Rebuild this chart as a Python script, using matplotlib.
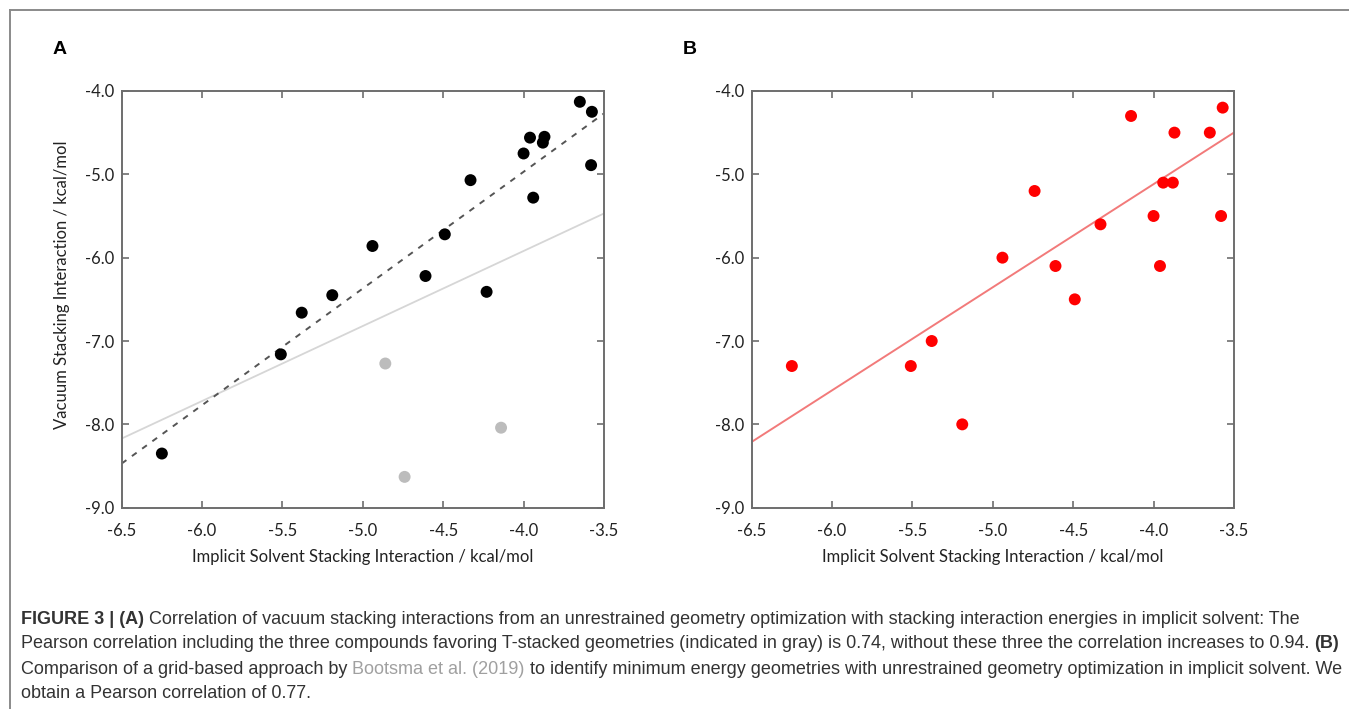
import numpy as np
import matplotlib
matplotlib.use("Agg")
import matplotlib.pyplot as plt
from matplotlib.lines import Line2D

# energias de empilhamento (kcal/mol)
solv_a = [-6.25, -5.51, -5.38, -5.19, -4.94, -4.61, -4.49, -4.33, -4.23,
          -4.00, -3.96, -3.94, -3.88, -3.87, -3.65, -3.58, -3.575]
vac_a = [-8.35, -7.16, -6.66, -6.45, -5.86, -6.22, -5.72, -5.07, -6.41,
         -4.75, -4.56, -5.28, -4.62, -4.55, -4.13, -4.89, -4.25]

# compostos com geometria T-stacked (cinza)
solv_t = [-4.86, -4.74, -4.14]
vac_t = [-7.27, -8.63, -8.04]

solv_b = [-6.25, -5.51, -5.38, -5.19, -4.94, -4.74, -4.61, -4.49, -4.33,
          -4.14, -4.00, -3.96, -3.94, -3.88, -3.87, -3.65, -3.58, -3.57]
grid_b = [-7.3, -7.3, -7.0, -8.0, -6.0, -5.2, -6.1, -6.5, -5.6,
          -4.3, -5.5, -6.1, -5.1, -5.1, -4.5, -4.5, -5.5, -4.2]

# retas de regressao (inclinacao, intercepto)
reta_a_todos = [0.90, -2.32]
reta_a_sem_t = [1.40, 0.63]
reta_b = [1.237, -0.17]

xticks = [-6.5, -6.0, -5.5, -5.0, -4.5, -4.0, -3.5]
yticks = [-9.0, -8.0, -7.0, -6.0, -5.0, -4.0]

FONTE = "Lato"
CINZA_EIXO = "#6e6e6e"
TAM = 12

fig = plt.figure(figsize=(13.49, 7.09), dpi=100)


def arruma_eixo(ax):
    ax.set_xlim(-6.5, -3.5)
    ax.set_ylim(-9.0, -4.0)
    ax.set_xticks(xticks)
    ax.set_yticks(yticks)
    ax.set_xticklabels([f"{v:.1f}" for v in xticks], fontfamily=FONTE, fontsize=TAM, color="#222")
    ax.set_yticklabels([f"{v:.1f}" for v in yticks], fontfamily=FONTE, fontsize=TAM, color="#222")
    ax.tick_params(direction="in", top=True, right=True, length=5, width=1.2,
                   color=CINZA_EIXO)
    ax.tick_params(axis="x", pad=11)
    ax.tick_params(axis="y", pad=5)
    for s in ax.spines.values():
        s.set_color(CINZA_EIXO)
        s.set_linewidth(1.4)
    ax.set_xlabel("Implicit Solvent Stacking Interaction / kcal/mol",
                  fontfamily=FONTE, fontsize=TAM, color="#222", labelpad=7)


def reta(ax, coef, **kw):
    xs = np.array([-6.5, -3.5])
    ax.plot(xs, coef[0] * xs + coef[1], **kw)


# painel A
axA = fig.add_axes([0.0902, 0.2839, 0.3575, 0.5878])
arruma_eixo(axA)
reta(axA, reta_a_todos, color="#d6d6d6", lw=1.3, zorder=1)
reta(axA, reta_a_sem_t, color="#555555", lw=1.4, ls=(0, (3, 3.5)), zorder=1)
axA.scatter(solv_t, vac_t, s=74, color="#bcbcbc", edgecolors="none", zorder=3)
axA.scatter(solv_a, vac_a, s=74, color="black", edgecolors="none", zorder=3)
axA.set_ylabel("Vacuum Stacking Interaction / kcal/mol",
               fontfamily=FONTE, fontsize=TAM, color="#222", labelpad=11)
axA.yaxis.label.set_y(0.535)

# painel B
axB = fig.add_axes([0.5572, 0.2839, 0.3575, 0.5878])
arruma_eixo(axB)
reta(axB, reta_b, color="#f27a7a", lw=1.4, zorder=1)
axB.scatter(solv_b, grid_b, s=74, color="#ff0000", edgecolors="none", zorder=3)

fig.text(60 / 1349, 1 - 50 / 709, "A", fontfamily="Liberation Sans", fontweight="bold",
         fontsize=14, ha="center", va="center")
fig.text(690 / 1349, 1 - 50 / 709, "B", fontfamily="Liberation Sans", fontweight="bold",
         fontsize=14, ha="center", va="center")

# moldura
fig.add_artist(Line2D([10 / 1349, 10 / 1349], [0, 1 - 10 / 709], transform=fig.transFigure,
                      color="#8a8a8a", lw=1.4))
fig.add_artist(Line2D([10 / 1349, 1], [1 - 10 / 709, 1 - 10 / 709], transform=fig.transFigure,
                      color="#8a8a8a", lw=1.4))

# legenda da figura, com trechos em negrito e o link em cinza claro
COR_TXT = "#333333"
COR_LINK = "#a0a0a0"
linhas = [
    [("FIGURE 3 | (A)", "bold", COR_TXT),
     (" Correlation of vacuum stacking interactions from an unrestrained geometry optimization with stacking interaction energies in implicit solvent: The", "normal", COR_TXT)],
    [("Pearson correlation including the three compounds favoring T-stacked geometries (indicated in gray) is 0.74, without these three the correlation increases to 0.94. ", "normal", COR_TXT),
     ("(B)", "bold", COR_TXT)],
    [("Comparison of a grid-based approach by ", "normal", COR_TXT),
     ("Bootsma et al. (2019)", "normal", COR_LINK),
     (" to identify minimum energy geometries with unrestrained geometry optimization in implicit solvent. We", "normal", COR_TXT)],
    [("obtain a Pearson correlation of 0.77.", "normal", COR_TXT)],
]
y_linhas = [619, 644, 669, 693]

fig.canvas.draw()
rend = fig.canvas.get_renderer()
for trechos, yl in zip(linhas, y_linhas):
    x = 21
    for txt, peso, cor in trechos:
        t = fig.text(x / 1349, 1 - yl / 709, txt, fontfamily="Liberation Sans",
                     fontweight=peso, fontsize=12.95, color=cor, va="center", ha="left")
        bb = t.get_window_extent(renderer=rend)
        x += bb.width

fig.savefig("out.png", dpi=100)
